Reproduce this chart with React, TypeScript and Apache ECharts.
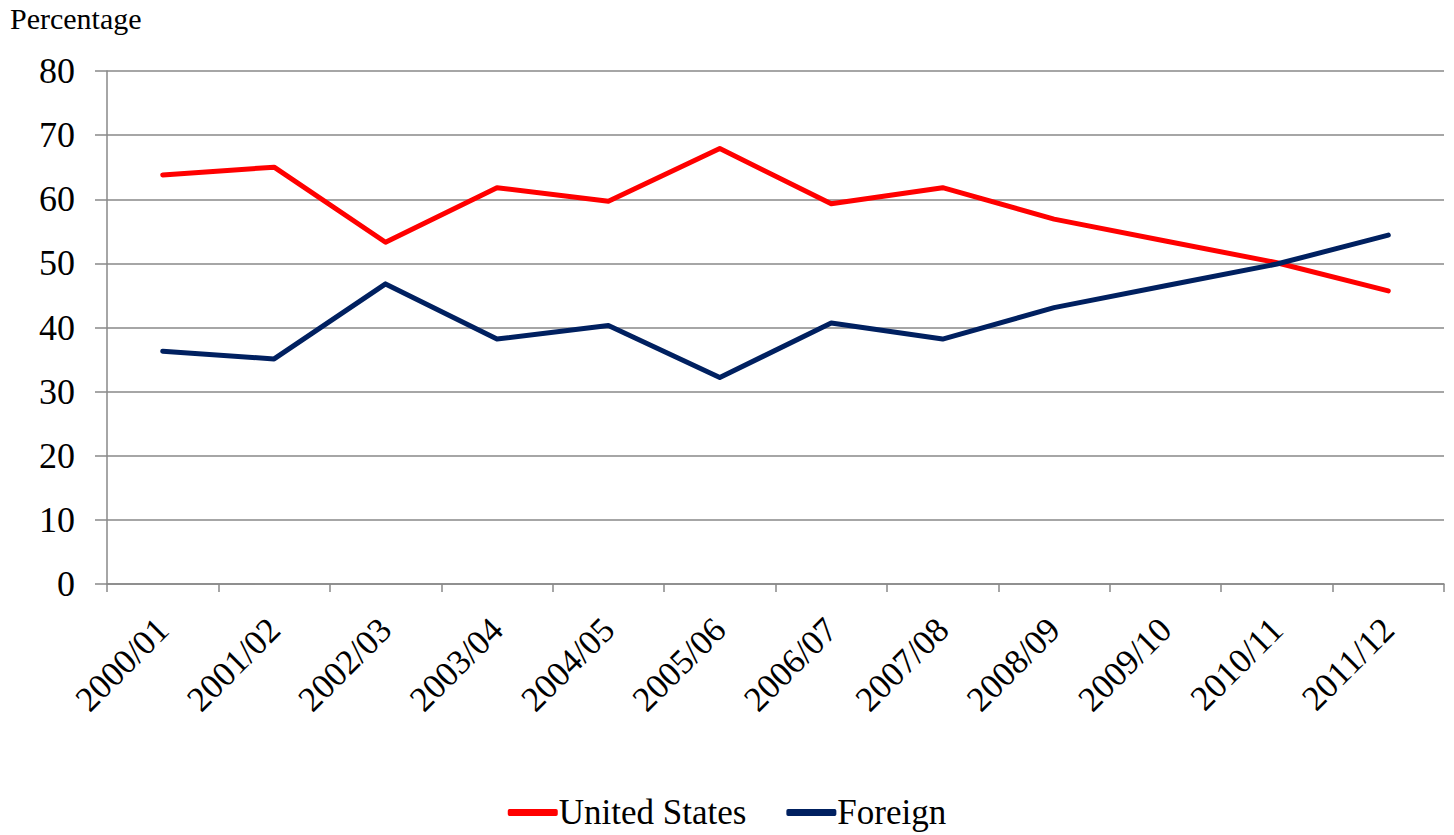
import React, { useEffect, useRef } from "react";
import * as echarts from "echarts";

const categories = ["2000/01", "2001/02", "2002/03", "2003/04", "2004/05", "2005/06", "2006/07", "2007/08", "2008/09", "2009/10", "2010/11", "2011/12"];
const unitedStates = [63.8, 65.0, 53.3, 61.8, 59.7, 67.9, 59.3, 61.8, 56.9, 53.5, 50.1, 45.7];
const foreign = [36.3, 35.1, 46.8, 38.2, 40.3, 32.2, 40.7, 38.2, 43.1, 46.5, 49.9, 54.4];
const yTicks = { min: 0, max: 80, interval: 10 };

const font = "Liberation Serif";

export default function App() {
  const ref = useRef<HTMLDivElement>(null);
  useEffect(() => {
    const chart = echarts.init(ref.current!, null, { renderer: "svg" });
    chart.setOption({
      animation: false,
      backgroundColor: "#ffffff",
      textStyle: { fontFamily: font, color: "#000" },
      graphic: [
        {
          type: "text",
          left: 10,
          top: 3,
          style: { text: "Percentage", fontFamily: font, fontSize: 30, fill: "#000" },
        },
      ],
      grid: { left: 107, right: 10, top: 71, bottom: 251, containLabel: false },
      legend: {
        top: 795,
        left: "center",
        itemWidth: 50,
        itemHeight: 7,
        itemGap: 40,
        padding: 0,
        textStyle: { fontFamily: font, fontSize: 35, color: "#000", padding: [0, 0, 0, -4] },
        data: [
          { name: "United States", icon: "roundRect" },
          { name: "Foreign", icon: "roundRect" },
        ],
      },
      xAxis: {
        type: "category",
        data: categories,
        boundaryGap: true,
        axisLine: { lineStyle: { color: "#888", width: 1.5 } },
        axisTick: { show: true, length: 8, lineStyle: { color: "#888", width: 1.5 } },
        axisLabel: {
          rotate: 45,
          fontFamily: font,
          fontSize: 35,
          color: "#000",
          margin: 40,
          interval: 0,
        },
      },
      yAxis: {
        type: "value",
        min: yTicks.min,
        max: yTicks.max,
        interval: yTicks.interval,
        axisLine: { show: true, lineStyle: { color: "#888", width: 1.5 } },
        axisTick: { show: true, length: 12, lineStyle: { color: "#888", width: 1.5 } },
        splitLine: { show: true, lineStyle: { color: "#888", width: 1.5 } },
        axisLabel: { fontFamily: font, fontSize: 36, color: "#000", margin: 32 },
      },
      series: [
        {
          name: "United States",
          type: "line",
          data: unitedStates,
          symbol: "none",
          lineStyle: { color: "#ff0000", width: 5, cap: "round", join: "round" },
          itemStyle: { color: "#ff0000" },
        },
        {
          name: "Foreign",
          type: "line",
          data: foreign,
          symbol: "none",
          lineStyle: { color: "#002060", width: 5, cap: "round", join: "round" },
          itemStyle: { color: "#002060" },
        },
      ],
    });
    return () => chart.dispose();
  }, []);
  return (
    <div
      ref={ref}
      style={{ position: "fixed", left: 0, top: 0, width: 1454, height: 835, background: "#fff" }}
    />
  );
}
